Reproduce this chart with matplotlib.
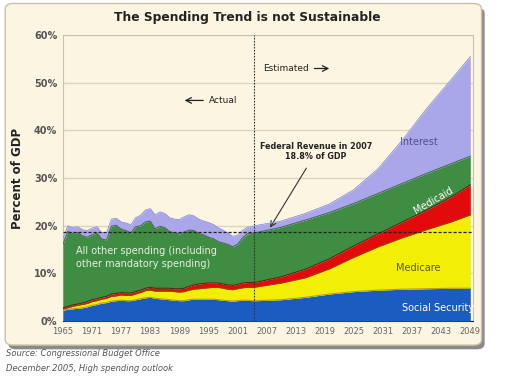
import numpy as np
import matplotlib
matplotlib.use('Agg')
import matplotlib.pyplot as plt
from matplotlib.patches import FancyBboxPatch

# years: actual 1965-2005, then estimated
years = list(range(1965, 2006)) + [2010, 2015, 2020, 2025, 2030, 2035, 2040, 2045, 2049]

# cumulative tops of each band, percent of GDP
ss_top = [2.3, 2.5, 2.6, 2.7, 2.8, 3.0, 3.3, 3.5, 3.8, 3.9,
          4.2, 4.3, 4.4, 4.3, 4.3, 4.5, 4.7, 4.9, 5.0, 4.8,
          4.7, 4.6, 4.5, 4.4, 4.3, 4.3, 4.5, 4.6, 4.6, 4.6,
          4.6, 4.6, 4.5, 4.4, 4.3, 4.2, 4.3, 4.4, 4.4, 4.3, 4.3,
          4.5, 5.0, 5.7, 6.2, 6.5, 6.7, 6.8, 6.9, 6.9]
medicare_top = [2.5, 2.8, 3.1, 3.3, 3.5, 3.7, 4.1, 4.3, 4.6, 4.8,
                5.2, 5.3, 5.5, 5.4, 5.4, 5.7, 6.0, 6.4, 6.5, 6.3,
                6.3, 6.3, 6.3, 6.2, 6.1, 6.2, 6.5, 6.7, 6.8, 6.9,
                7.0, 7.1, 7.1, 6.9, 6.7, 6.6, 6.8, 7.0, 7.1, 7.1, 7.2,
                8.0, 9.1, 11.0, 13.4, 15.6, 17.5, 19.2, 20.8, 22.3]
medicaid_top = [2.8, 3.1, 3.4, 3.6, 3.8, 4.1, 4.5, 4.7, 5.0, 5.2,
                5.7, 5.8, 6.0, 5.9, 5.9, 6.2, 6.5, 6.9, 7.1, 6.9,
                6.9, 6.9, 6.9, 6.8, 6.8, 6.9, 7.3, 7.6, 7.8, 7.9,
                8.0, 8.0, 8.0, 7.8, 7.6, 7.5, 7.7, 8.0, 8.1, 8.1, 8.2,
                9.3, 10.9, 13.1, 15.8, 18.3, 20.8, 23.3, 26.0, 28.6]
other_top = [16.1, 18.8, 18.4, 18.6, 17.9, 17.6, 18.1, 18.5, 17.2, 17.0,
             19.9, 20.1, 19.3, 19.0, 18.5, 19.8, 20.0, 20.8, 21.0, 19.4,
             19.9, 19.6, 18.8, 18.5, 18.3, 18.7, 19.1, 19.0, 18.4, 18.1,
             17.6, 17.3, 16.7, 16.4, 16.1, 15.6, 16.1, 17.4, 18.3, 18.4, 18.6,
             19.7, 21.2, 22.8, 24.7, 26.8, 28.9, 31.0, 33.0, 34.6]
total = [17.3, 20.0, 19.6, 19.8, 19.2, 19.0, 19.5, 19.8, 18.6, 18.5,
         21.4, 21.6, 20.8, 20.6, 20.2, 21.7, 22.2, 23.3, 23.6, 22.3,
         22.9, 22.6, 21.7, 21.4, 21.3, 21.9, 22.3, 22.1, 21.4, 21.0,
         20.7, 20.3, 19.6, 19.1, 18.5, 17.8, 18.0, 19.0, 19.7, 19.8, 20.1,
         21.0, 22.6, 24.6, 27.6, 32.0, 38.0, 44.6, 50.6, 55.5]

revenue_2007 = 18.8
xticks = list(range(1965, 2050, 6))
yticks = [0, 10, 20, 30, 40, 50, 60]

bg = '#fbf5e2'
fig = plt.figure(figsize=(5.2, 3.86), dpi=100)
fig.patch.set_facecolor('white')

# frame with shadow
shadow = FancyBboxPatch((0.016, 0.095), 0.916, 0.885, boxstyle='round,pad=0,rounding_size=0.015',
                        transform=fig.transFigure, facecolor='#8a8a8a', edgecolor='none', zorder=0)
frame = FancyBboxPatch((0.010, 0.106), 0.916, 0.885, boxstyle='round,pad=0,rounding_size=0.015',
                       transform=fig.transFigure, facecolor=bg, edgecolor='#c9c2a8', lw=1.0, zorder=1)
fig.patches.extend([shadow, frame])

ax = fig.add_axes([0.121, 0.168, 0.789, 0.741])
ax.set_facecolor(bg)
ax.set_zorder(2)

zero = np.zeros(len(years))
ax.fill_between(years, zero, ss_top, color='#1b5cc0', lw=0, zorder=3)
ax.fill_between(years, ss_top, medicare_top, color='#f2ee05', lw=0, zorder=3)
ax.fill_between(years, medicare_top, medicaid_top, color='#e20a0a', lw=0, zorder=3)
ax.fill_between(years, medicaid_top, other_top, color='#3f8c43', lw=0, zorder=3)
ax.fill_between(years, other_top, total, color='#a9a7ea', lw=0, zorder=3)
ax.plot(years, ss_top, color='#b0a020', lw=0.8, zorder=4)
ax.plot(years, medicare_top, color='#a04000', lw=0.8, zorder=4)
ax.plot(years, medicaid_top, color='#5a2a10', lw=0.8, zorder=4)
ax.plot(years, other_top, color='#4f6a58', lw=0.8, zorder=4)
ax.plot(years, total, color='#8f8ed8', lw=0.6, zorder=4)

ax.axhline(revenue_2007, color='#222222', lw=0.9, ls=(0, (2.5, 1.5)), zorder=5)
ax.axvline(2004.4, color='#333333', lw=0.8, ls=(0, (1.5, 1.2)), zorder=5)

ax.set_xlim(1965, 2049.6)
ax.set_ylim(0, 60)
ax.set_yticks(yticks)
ax.set_yticklabels([f'{v}%' for v in yticks], fontsize=7, color='#555555', fontweight='bold')
ax.set_xticks(xticks)
ax.set_xticklabels([str(v) for v in xticks], fontsize=6, color='#666666')
ax.tick_params(length=0, pad=4)
ax.grid(axis='y', color='#d9d3bf', lw=1.0, zorder=1)
ax.set_axisbelow(True)
for s in ['top', 'right', 'left']:
    ax.spines[s].set_color('#c9c2b0')
ax.spines['bottom'].set_color('#222222')
ax.set_ylabel('Percent of GDP', fontsize=8.5, fontweight='bold', color='#222222', labelpad=7)

fig.text(0.475, 0.955, 'The Spending Trend is not Sustainable', ha='center', va='center',
         fontsize=8.8, fontweight='bold', color='#222222')

# annotations
ax.text(2006.2, 53, 'Estimated', fontsize=6.5, color='#222222', va='center')
ax.annotate('', xy=(2020.5, 53), xytext=(2016.3, 53),
            arrowprops=dict(arrowstyle='->', color='#222222', lw=0.9))
ax.annotate('', xy=(1989.5, 46.3), xytext=(1994.5, 46.3),
            arrowprops=dict(arrowstyle='->', color='#222222', lw=0.9))
ax.text(1995.2, 46.3, 'Actual', fontsize=6.5, color='#222222', va='center')
ax.text(2017.2, 35.6, 'Federal Revenue in 2007\n18.8% of GDP', fontsize=5.8, fontweight='bold',
        color='#222222', ha='center', va='center', linespacing=1.2)
ax.annotate('', xy=(2007.4, revenue_2007 + 0.3), xytext=(2015.5, 32.6),
            arrowprops=dict(arrowstyle='->', color='#333333', lw=0.8))
ax.text(2038.5, 37.5, 'Interest', fontsize=7, color='#4f4f8a', ha='center', va='center')
ax.text(2041.3, 25.4, 'Medicaid', fontsize=7, color='white', ha='center', va='center', rotation=30)
ax.text(2038.2, 11.2, 'Medicare', fontsize=7, color='#5a5a10', ha='center', va='center')
ax.text(2042.3, 2.7, 'Social Security', fontsize=7, color='white', ha='center', va='center')
ax.text(1967.8, 13.3, 'All other spending (including\nother mandatory spending)', fontsize=7,
        color='#e8f0e0', ha='left', va='center', linespacing=1.4)

fig.text(0.012, 0.077, 'Source: Congressional Budget Office', fontsize=6, style='italic', color='#555555')
fig.text(0.012, 0.038, 'December 2005, High spending outlook', fontsize=6, style='italic', color='#555555')

fig.savefig('out.png', dpi=100, facecolor=fig.get_facecolor())
